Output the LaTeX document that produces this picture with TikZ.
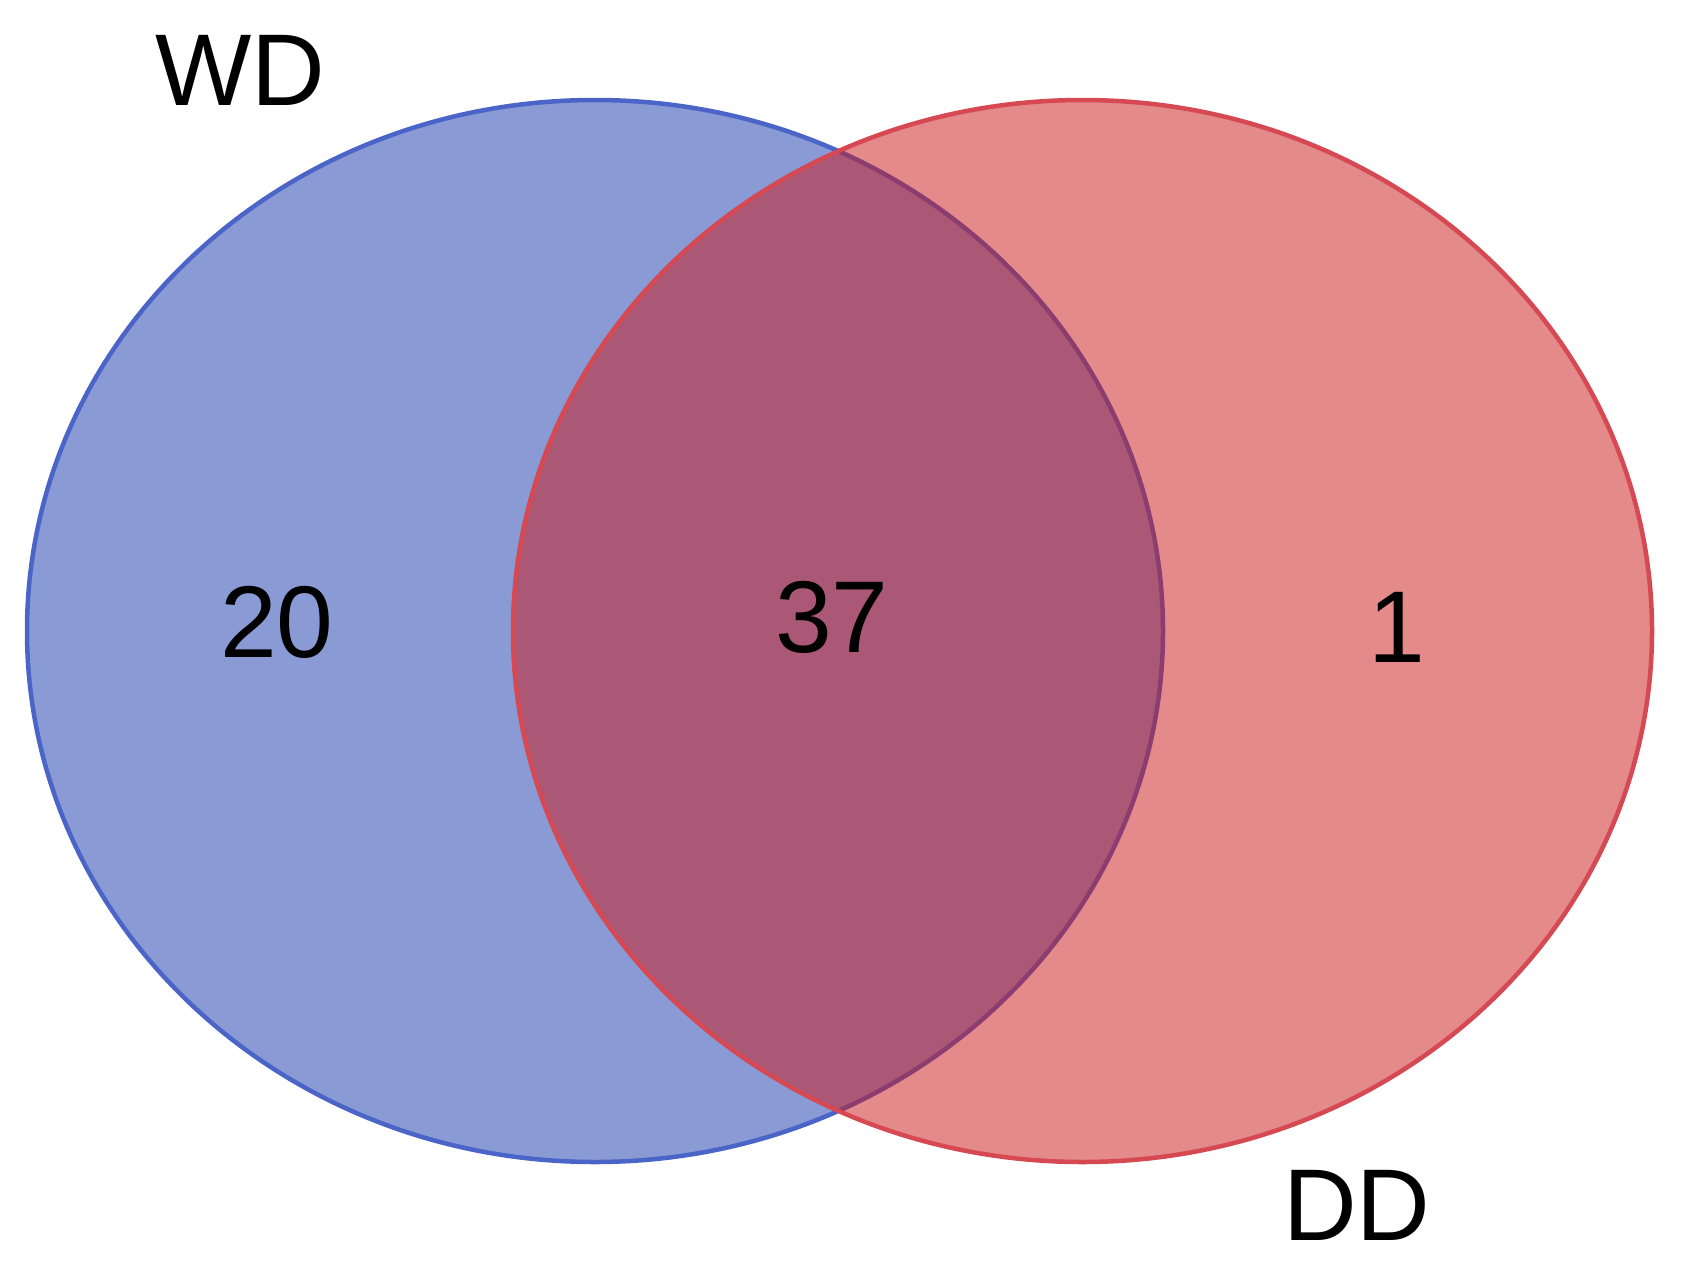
\documentclass[tikz,border=0pt]{standalone}
\usepackage{fontspec}
\setmainfont{Liberation Sans}
\definecolor{wdfill}{RGB}{21,55,173}
\definecolor{wdline}{RGB}{75,100,200}
\definecolor{ddfill}{RGB}{203,23,23}
\definecolor{ddline}{RGB}{214,72,82}
\begin{document}
\begin{tikzpicture}[x=1pt,y=-1pt,
  setlabel/.style={font=\fontsize{102}{110}\selectfont, inner sep=0pt, text=black},
  countlabel/.style={font=\fontsize{102}{110}\selectfont, inner sep=0pt, text=black}]
\useasboundingbox (0,0) rectangle (1684,1266);
\fill[white] (0,0) rectangle (1684,1266);
\filldraw[fill=wdfill, fill opacity=0.5, draw=wdline, line width=4.5pt] (595,631) ellipse [x radius=568, y radius=531];
\filldraw[fill=ddfill, fill opacity=0.5, draw=ddline, line width=4.5pt] (1082.5,631) ellipse [x radius=569.5, y radius=531];
\node[setlabel] (wd) at (240,70) {WD};
\node[setlabel] (dd) at (1357,1205) {DD};
\node[countlabel] (n20) at (277,622) {20};
\node[countlabel] (n37) at (832,617) {37};
\node[countlabel] (n1) at (1397,627) {1};
\end{tikzpicture}
\end{document}
